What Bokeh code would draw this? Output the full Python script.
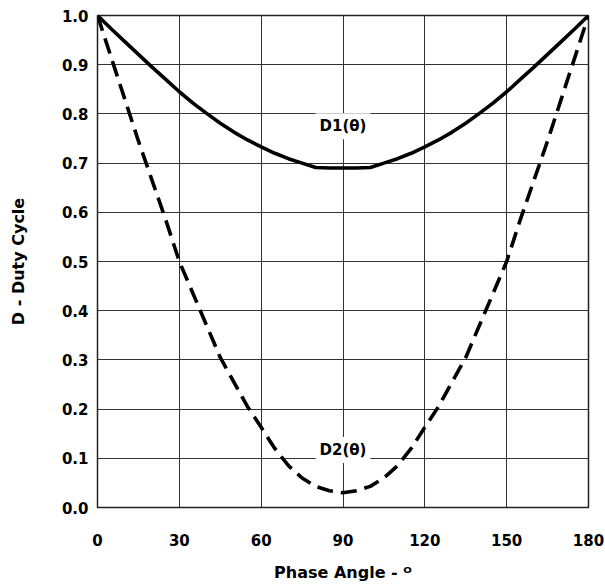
from bokeh.plotting import figure
from bokeh.models import Range1d, Label, FixedTicker
from bokeh.embed import file_html
from bokeh.resources import INLINE

theta = [0, 5, 10, 15, 20, 25, 30, 35, 40, 45, 50, 55, 60, 65, 70, 75, 80, 85, 90,
         95, 100, 105, 110, 115, 120, 125, 130, 135, 140, 145, 150, 155, 160, 165, 170, 175, 180]
d1 = [1.000, 0.973, 0.947, 0.921, 0.895, 0.870, 0.845, 0.822, 0.801, 0.781, 0.763, 0.747,
      0.733, 0.720, 0.709, 0.700, 0.691, 0.690, 0.690,
      0.690, 0.691, 0.700, 0.709, 0.720, 0.733, 0.747, 0.763, 0.781, 0.801, 0.822, 0.845,
      0.870, 0.895, 0.921, 0.947, 0.973, 1.000]
d2 = [1.000, 0.915, 0.830, 0.745, 0.665, 0.585, 0.500, 0.435, 0.370, 0.305, 0.255, 0.205,
      0.163, 0.120, 0.085, 0.060, 0.043, 0.034, 0.030,
      0.034, 0.043, 0.060, 0.085, 0.120, 0.163, 0.205, 0.255, 0.305, 0.370, 0.435, 0.500,
      0.585, 0.665, 0.745, 0.830, 0.915, 1.000]
x_ticks = [0, 30, 60, 90, 120, 150, 180]
y_ticks = [0.0, 0.1, 0.2, 0.3, 0.4, 0.5, 0.6, 0.7, 0.8, 0.9, 1.0]
y_tick_labels = ["0.0", "0.1", "0.2", "0.3", "0.4", "0.5", "0.6", "0.7", "0.8", "0.9", "1.0"]
labels = ["D1(θ)", "D2(θ)"]
label_x = [90, 90]
label_y = [0.775, 0.117]

FONT = "DejaVu Sans"

p = figure(width=605, height=586, output_backend="svg", toolbar_location=None,
           x_range=Range1d(0, 180), y_range=Range1d(0, 1),
           min_border_left=97, min_border_right=17, min_border_top=15, min_border_bottom=79)
p.background_fill_color = "white"
p.border_fill_color = "white"
p.outline_line_color = "#222222"
p.outline_line_width = 1.5

p.xaxis.ticker = FixedTicker(ticks=x_ticks)
p.yaxis.ticker = FixedTicker(ticks=y_ticks)
p.yaxis.major_label_overrides = {v: s for v, s in zip(y_ticks, y_tick_labels)}
for ax in (p.xaxis, p.yaxis):
    ax.axis_line_color = None
    ax.major_tick_line_color = None
    ax.minor_tick_line_color = None
    ax.major_tick_out = 0
    ax.major_tick_in = 0
    ax.minor_tick_out = 0
    ax.major_label_text_font = FONT
    ax.major_label_text_font_style = "bold"
    ax.major_label_text_font_size = "15px"
    ax.major_label_text_color = "black"
    ax.axis_label_text_font = FONT
    ax.axis_label_text_font_style = "bold"
    ax.axis_label_text_font_size = "16px"
    ax.axis_label_text_color = "black"
p.xaxis.major_label_standoff = 26
p.yaxis.major_label_standoff = 9
p.xaxis.axis_label = "Phase Angle - ᴼ"
p.yaxis.axis_label = "D - Duty Cycle"
p.xaxis.axis_label_standoff = 14
p.yaxis.axis_label_standoff = 31

p.grid.grid_line_color = "#333333"
p.grid.grid_line_width = 1
p.grid.grid_line_alpha = 1

p.line(theta, d1, line_color="black", line_width=3.6)
p.line(theta, d2, line_color="black", line_width=3.6, line_dash="16 8")

for t, xv, yv in zip(labels, label_x, label_y):
    p.add_layout(Label(x=xv, y=yv, text=t, text_align="center", text_baseline="middle",
                       text_font=FONT, text_font_style="bold", text_font_size="15px",
                       text_color="black", background_fill_color="white", padding=4))

open("out.html", "w").write(file_html(p, INLINE))
